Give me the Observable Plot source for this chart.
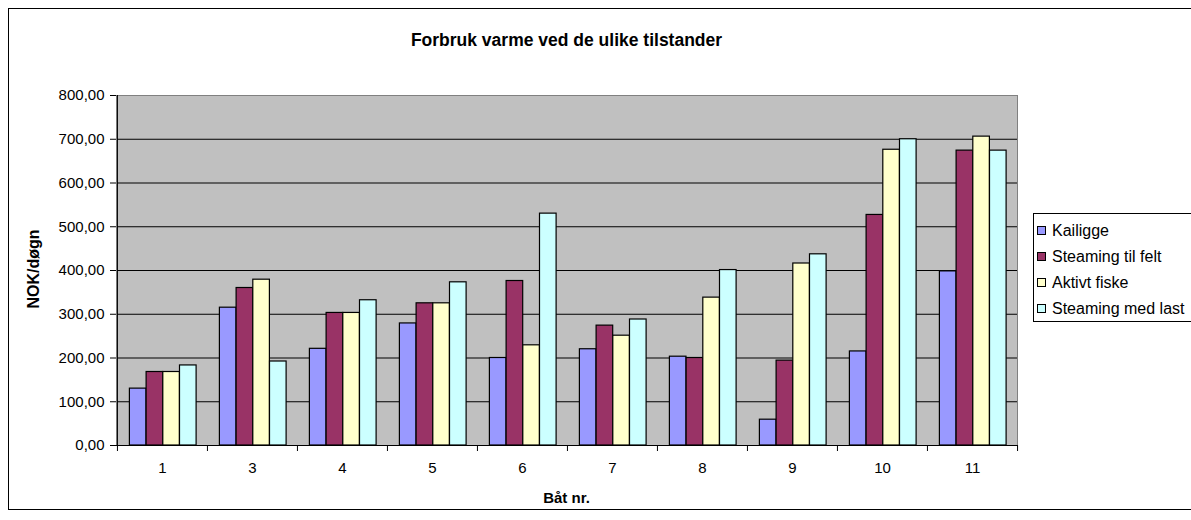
<!DOCTYPE html>
<html>
<head>
<meta charset="utf-8">
<script src="https://cdn.jsdelivr.net/npm/d3@7"></script>
<script src="https://cdn.jsdelivr.net/npm/@observablehq/plot@0.6"></script>
<style>
  html, body { margin: 0; padding: 0; }
  body { width: 1191px; height: 520px; overflow: hidden; position: relative; background: #fff;
         font-family: "Liberation Sans", Arial, sans-serif; color: #000; }
  #border { position: absolute; left: 8px; top: 8px; width: 1200px; height: 502px; border: 1px solid #000; box-sizing: border-box; }
  #chart { position: absolute; left: 0; top: 0; }
  .title { position: absolute; left: 116px; width: 901px; top: 30px; text-align: center; font-weight: bold; font-size: 17.5px; }
  .xlabel { position: absolute; left: 116px; width: 901px; top: 489px; text-align: center; font-weight: bold; font-size: 15px; }
  .ylabel { position: absolute; left: 34px; top: 269px; transform: translate(-50%, -50%) rotate(-90deg); font-weight: bold; font-size: 16px; white-space: nowrap; }
  #legend { position: absolute; left: 1033px; top: 213px; width: 170px; height: 109px; border: 1px solid #000; box-sizing: border-box; background: #fff; }
  .item { position: absolute; left: 3px; font-size: 16px; white-space: nowrap; line-height: 16px; }
  .sw { display: inline-block; width: 7px; height: 7px; border: 1px solid #000; margin-right: 6px; vertical-align: 1px; }
</style>
</head>
<body>
<div id="border"></div>
<div id="chart"></div>
<div class="title">Forbruk varme ved de ulike tilstander</div>
<div class="xlabel">Båt nr.</div>
<div class="ylabel">NOK/døgn</div>
<div id="legend"></div>
<script>
const boats = ["1", "3", "4", "5", "6", "7", "8", "9", "10", "11"];
const seriesNames = ["Kailigge", "Steaming til felt", "Aktivt fiske", "Steaming med last"];
const kailigge        = [130, 315, 221, 279, 200, 220, 203, 59, 215, 398];
const steamingTilFelt = [168, 360, 303, 325, 376, 274, 200, 194, 527, 674];
const aktivtFiske     = [168, 379, 303, 325, 229, 251, 338, 416, 676, 706];
const steamingMedLast = [183, 192, 332, 373, 530, 288, 401, 437, 700, 674];
const yTicks = [0, 100, 200, 300, 400, 500, 600, 700, 800];
const colors = ["#9999FF", "#993366", "#FFFFCC", "#CCFFFF"];

const seriesValues = [kailigge, steamingTilFelt, aktivtFiske, steamingMedLast];
const table = [];
seriesNames.forEach((s, si) => boats.forEach((b, bi) => table.push({boat: b, series: s, value: seriesValues[si][bi]})));

const W = 1191, H = 520, mL = 116, mR = 174, mT = 95, mB = 75;
const step = (W - mL - mR) / boats.length;
const barW = 16.7, outer = 12.4;
const fmt = d => d.toFixed(2).replace(".", ",");

const barMarks = seriesNames.map((s, i) =>
  Plot.barY(table.filter(d => d.series === s), {
    x: "boat", y: "value", fill: "series", stroke: "#000", strokeWidth: 1.2,
    insetLeft: outer + barW * i,
    insetRight: step - outer - barW * (i + 1)
  })
);

const chart = Plot.plot({
  width: W, height: H,
  marginTop: mT, marginBottom: mB, marginLeft: mL, marginRight: mR,
  style: {background: "transparent", fontFamily: "'Liberation Sans', Arial, sans-serif", color: "#000"},
  x: {type: "band", domain: boats, padding: 0, axis: null},
  y: {domain: [0, 800], axis: null},
  color: {domain: seriesNames, range: colors},
  marks: [
    Plot.frame({fill: "#C0C0C0"}),
    Plot.gridY(yTicks, {stroke: "#000", strokeOpacity: 1}),
    ...barMarks,
    Plot.frame({stroke: "#808080"}),
    Plot.ruleY([0], {stroke: "#000"}),
    Plot.ruleX([boats[0]], {stroke: "#000", dx: -step / 2}),
    Plot.axisY({ticks: yTicks, tickSize: 6, tickPadding: 6, tickFormat: fmt, fontSize: 15, label: null}),
    Plot.axisX({ticks: boats, tickSize: 0, tickPadding: 17, fontSize: 15, label: null}),
    Plot.axisX({ticks: boats, tickSize: 6, tickFormat: () => "", dx: -step / 2, label: null}),
    Plot.axisX({ticks: [boats[boats.length - 1]], tickSize: 6, tickFormat: () => "", dx: step / 2, label: null})
  ]
});
document.getElementById("chart").appendChild(chart);

const legend = document.getElementById("legend");
seriesNames.forEach((s, i) => {
  const it = document.createElement("div");
  it.className = "item";
  it.style.top = (9 + i * 26) + "px";
  it.innerHTML = `<span class="sw" style="background:${colors[i]}"></span>${s}`;
  legend.appendChild(it);
});
</script>
</body>
</html>
